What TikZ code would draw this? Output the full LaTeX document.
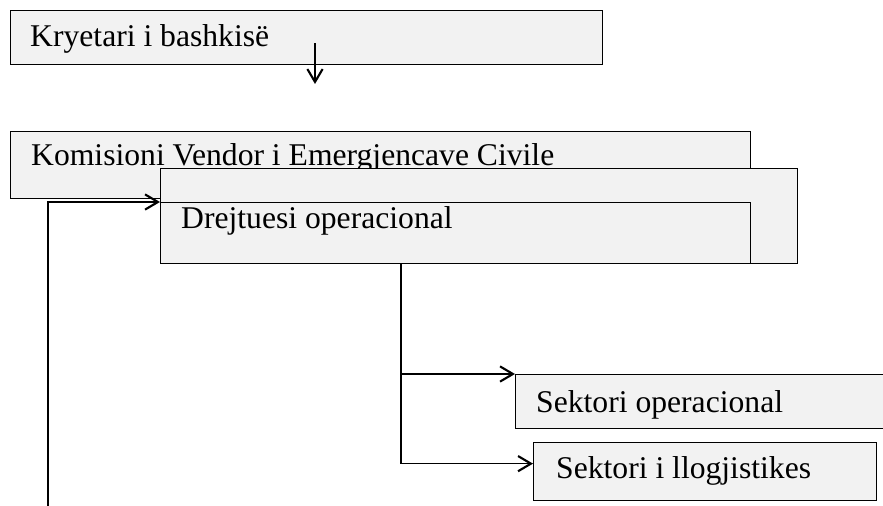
\documentclass[tikz,border=0pt]{standalone}
\usepackage{fontspec}
\setmainfont{Liberation Serif}
\usetikzlibrary{arrows.meta}

\tikzset{
  box/.style={rectangle, draw, fill=black!5, line width=1.1pt, inner sep=0pt, anchor=north west},
  lbl/.style={anchor=base west, inner sep=0pt, font=\fontsize{27}{30}\selectfont},
  arr/.style={line width=1.1pt, -{Straight Barb[length=11pt,width=13pt,line width=1.8pt]}}
}

\begin{document}
\begin{tikzpicture}[x=0.03cm, y=-0.03cm]

\useasboundingbox (0,0) rectangle (883,506);
\clip (0,0) rectangle (883,506);

% Kryetari
\node[box, minimum width=17.76cm, minimum height=1.62cm] (kryet) at (10,10) {};
\node[lbl] (kryettxt) at (30,47) {Kryetari i bashkisë};
\coordinate (ktip) at (315,84);
\draw[arr] ([yshift=0.66cm]kryet.south -| ktip) -- (ktip);

% Komisioni
\node[box, minimum width=22.2cm, minimum height=2.01cm] (komis) at (10,131) {};
\node[lbl] (komistxt) at (31,166) {Komisioni Vendor i Emergjencave Civile};

% Drejtuesi
\node[box, minimum width=19.11cm, minimum height=2.85cm] (drejtout) at (160,168) {};
\node[box, minimum width=17.7cm, minimum height=1.83cm] (drejt) at (160,202) {};
\node[lbl] (drejttxt) at (181,228) {Drejtuesi operacional};

\coordinate (lbot) at (48,520);
\draw[arr] (lbot) |- (drejt.north west);

% Sektoret
\node[box, minimum width=12cm, minimum height=1.62cm] (sekop) at (515,374) {};
\node[lbl] (sekoptxt) at (536,412) {Sektori operacional};

\node[box, minimum width=10.29cm, minimum height=1.74cm] (seklog) at (533,442) {};
\node[lbl] (seklogtxt) at (556,478) {Sektori i llogjistikes};

\coordinate (bx) at (401,0);
\draw[arr] (drejt.south -| bx) |- (sekop.north west);
\draw[arr] (drejt.south -| bx) |- ([yshift=0.24cm]seklog.west);

\end{tikzpicture}
\end{document}
